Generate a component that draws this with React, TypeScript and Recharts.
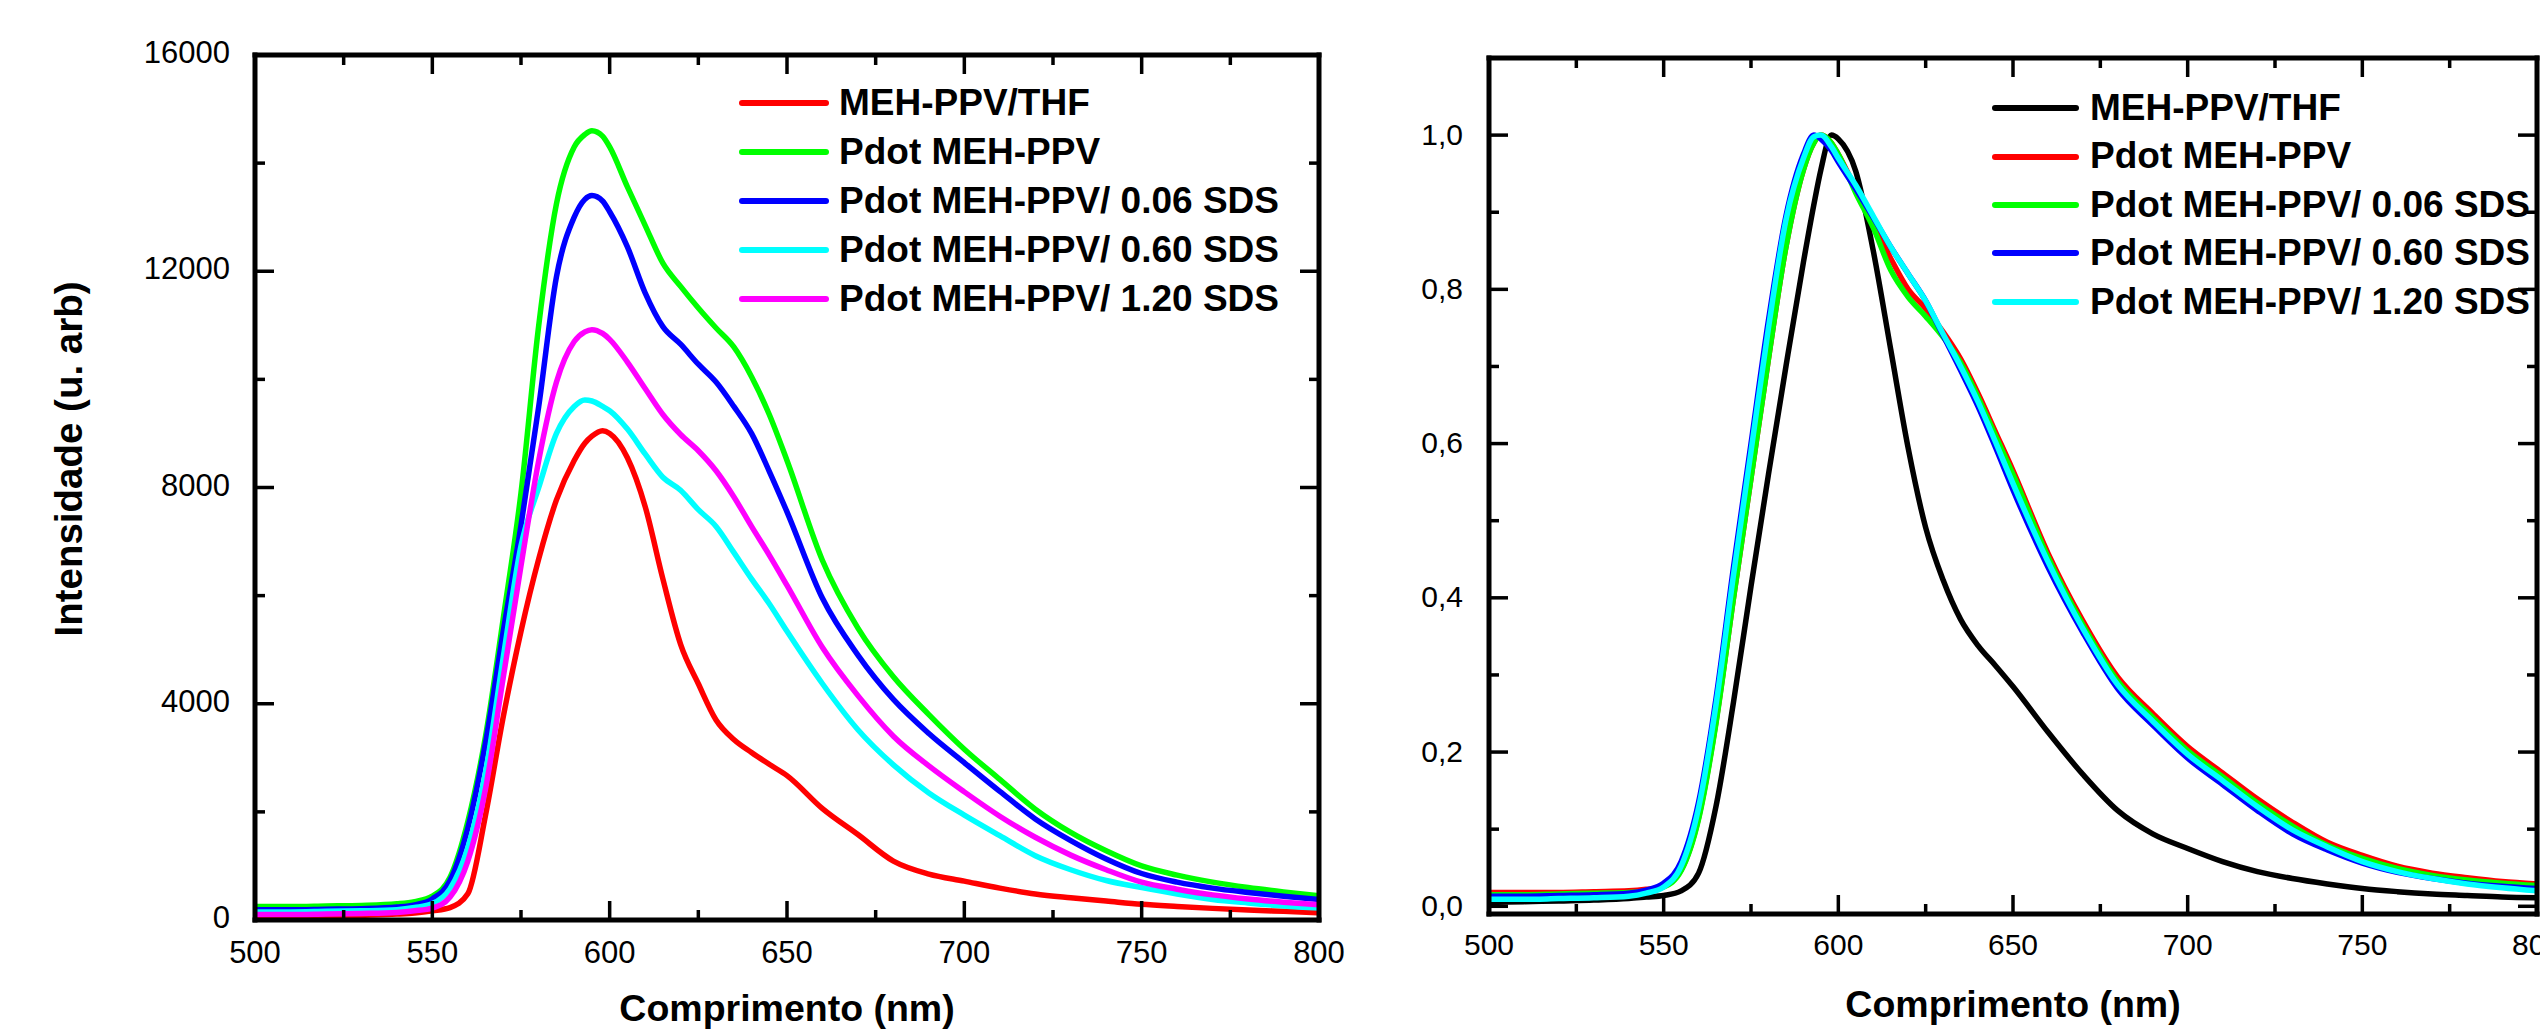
import React from 'react';
import { LineChart, Line, XAxis, YAxis, Legend } from 'recharts';

const FONT = '"Liberation Sans", Arial, Helvetica, sans-serif';

// ---------- data ----------
const wavelengths = [500, 510, 520, 530, 540, 545, 550, 555, 560, 565, 570, 575, 580, 585, 590, 593, 595, 598, 600, 605, 610, 615, 620, 625, 630, 635, 640, 645, 650, 660, 670, 680, 690, 700, 710, 720, 730, 740, 750, 760, 770, 780, 790, 800];

// left panel: raw intensity (u. arb)
const intThf = [60, 65, 75, 90, 110, 130, 170, 230, 485, 1940, 3760, 5340, 6680, 7770, 8500, 8820, 8950, 9050, 9000, 8550, 7650, 6310, 5100, 4370, 3700, 3340, 3100, 2880, 2670, 2060, 1580, 1090, 850, 720, 590, 480, 410, 350, 290, 250, 215, 185, 160, 135];
const intPdot = [250, 250, 260, 270, 300, 340, 440, 790, 1820, 3400, 5580, 7900, 11000, 13250, 14300, 14530, 14600, 14500, 14300, 13560, 12850, 12150, 11720, 11320, 10950, 10600, 10050, 9350, 8500, 6650, 5400, 4500, 3800, 3160, 2600, 2050, 1620, 1280, 1000, 830, 700, 600, 520, 450];
const intSds006 = [190, 190, 200, 210, 240, 280, 390, 730, 1700, 3280, 5340, 7300, 9500, 11900, 13000, 13330, 13400, 13300, 13100, 12450, 11600, 10975, 10650, 10280, 9950, 9500, 9000, 8300, 7550, 5950, 4900, 4080, 3450, 2910, 2380, 1870, 1470, 1130, 860, 700, 590, 510, 440, 380];
const intSds060 = [150, 150, 160, 170, 190, 230, 303, 580, 1335, 2730, 4860, 6920, 8000, 9000, 9500, 9620, 9600, 9500, 9420, 9080, 8620, 8190, 7950, 7590, 7280, 6800, 6310, 5850, 5340, 4370, 3520, 2870, 2350, 1940, 1560, 1190, 930, 730, 600, 480, 380, 315, 260, 220];
const intSds120 = [100, 100, 110, 120, 140, 170, 220, 425, 1090, 2430, 4490, 6550, 8500, 9950, 10700, 10880, 10920, 10850, 10740, 10320, 9830, 9350, 8980, 8680, 8310, 7830, 7280, 6750, 6190, 5040, 4150, 3400, 2850, 2370, 1920, 1530, 1200, 930, 700, 570, 465, 390, 330, 280];

// right panel: normalized intensity
const normThf = [0.005, 0.006, 0.007, 0.008, 0.010, 0.012, 0.014, 0.020, 0.043, 0.13, 0.265, 0.415, 0.56, 0.70, 0.835, 0.91, 0.955, 1.0, 0.995, 0.953, 0.85, 0.722, 0.594, 0.491, 0.423, 0.372, 0.338, 0.312, 0.285, 0.226, 0.171, 0.124, 0.094, 0.075, 0.058, 0.045, 0.036, 0.029, 0.023, 0.019, 0.016, 0.014, 0.012, 0.011];
const normPdot = [0.018, 0.018, 0.018, 0.019, 0.020, 0.022, 0.026, 0.047, 0.115, 0.24, 0.40, 0.555, 0.71, 0.855, 0.955, 0.99, 1.0, 0.99, 0.975, 0.93, 0.885, 0.84, 0.80, 0.775, 0.745, 0.71, 0.665, 0.615, 0.565, 0.458, 0.37, 0.297, 0.25, 0.207, 0.173, 0.139, 0.109, 0.083, 0.066, 0.052, 0.043, 0.037, 0.032, 0.029];
const normSds006 = [0.015, 0.015, 0.016, 0.017, 0.018, 0.020, 0.025, 0.046, 0.113, 0.238, 0.40, 0.555, 0.71, 0.855, 0.955, 0.99, 1.0, 0.99, 0.975, 0.925, 0.88, 0.825, 0.79, 0.765, 0.738, 0.705, 0.66, 0.61, 0.56, 0.453, 0.365, 0.292, 0.245, 0.202, 0.168, 0.134, 0.104, 0.079, 0.062, 0.049, 0.040, 0.034, 0.030, 0.027];
const normSds060 = [0.013, 0.013, 0.014, 0.015, 0.017, 0.021, 0.03, 0.058, 0.135, 0.27, 0.44, 0.60, 0.76, 0.895, 0.975, 1.0, 0.995, 0.98, 0.965, 0.93, 0.893, 0.855, 0.82, 0.785, 0.74, 0.695, 0.648, 0.595, 0.54, 0.44, 0.355, 0.282, 0.235, 0.192, 0.158, 0.124, 0.094, 0.073, 0.056, 0.044, 0.036, 0.030, 0.026, 0.023];
const normSds120 = [0.009, 0.009, 0.010, 0.011, 0.013, 0.017, 0.025, 0.052, 0.128, 0.262, 0.43, 0.59, 0.75, 0.89, 0.97, 0.998, 1.0, 0.985, 0.97, 0.935, 0.895, 0.855, 0.82, 0.785, 0.742, 0.70, 0.654, 0.602, 0.548, 0.447, 0.36, 0.287, 0.24, 0.197, 0.163, 0.129, 0.099, 0.077, 0.058, 0.045, 0.036, 0.029, 0.024, 0.020];

const seriesNames = ['MEH-PPV/THF', 'Pdot MEH-PPV', 'Pdot MEH-PPV/ 0.06 SDS', 'Pdot MEH-PPV/ 0.60 SDS', 'Pdot MEH-PPV/ 1.20 SDS'];

// ticks
const xMajorTicks = [500, 550, 600, 650, 700, 750, 800];
const xMajorLabels = ['500', '550', '600', '650', '700', '750', '800'];
const xMinorTicks = [525, 575, 625, 675, 725, 775];
const leftYMajorTicks = [0, 4000, 8000, 12000, 16000];
const leftYMajorLabels = ['0', '4000', '8000', '12000', '16000'];
const leftYMinorTicks = [2000, 6000, 10000, 14000];
const rightYMajorTicks = [0, 0.2, 0.4, 0.6, 0.8, 1.0];
const rightYMajorLabels = ['0,0', '0,2', '0,4', '0,6', '0,8', '1,0'];
const rightYMinorTicks = [0.1, 0.3, 0.5, 0.7, 0.9];

const xLabel = 'Comprimento (nm)';
const yLabel = 'Intensidade (u. arb)';

// ---------- tables ----------
const leftData = wavelengths.map((wl, i) => ({
  wl, s0: intThf[i], s1: intPdot[i], s2: intSds006[i], s3: intSds060[i], s4: intSds120[i],
}));
const rightData = wavelengths.map((wl, i) => ({
  wl, s0: normThf[i], s1: normPdot[i], s2: normSds006[i], s3: normSds060[i], s4: normSds120[i],
}));

const xTicks = [...xMajorTicks, ...xMinorTicks].sort((a, b) => a - b);
const leftYTicks = [...leftYMajorTicks, ...leftYMinorTicks].sort((a, b) => a - b);
const rightYTicks = [...rightYMajorTicks, ...rightYMinorTicks].sort((a, b) => a - b);

const leftColors = ['#FF0000', '#00FF00', '#0000FF', '#00FFFF', '#FF00FF'];
const rightColors = ['#000000', '#FF0000', '#00FF00', '#0000FF', '#00FFFF'];

// ---------- styling helpers ----------
const MAJOR_LEN = 19;
const MINOR_LEN = 10;
const TICK_W = 3.5;
const AXIS = { stroke: '#000', strokeWidth: 5, strokeLinecap: 'square' as const };

const findIdx = (arr: number[], v: number) => arr.findIndex((m) => Math.abs(m - v) < 1e-6);

function makeXTick(dir: number, majors: number[], labels: string[] | null, labelDy: number, fontSize: number) {
  return (props: any) => {
    const { x, y, payload } = props;
    const idx = findIdx(majors, payload.value);
    const len = idx >= 0 ? MAJOR_LEN : MINOR_LEN;
    return (
      <g>
        <line x1={x} y1={y} x2={x} y2={y + dir * len} stroke="#000" strokeWidth={TICK_W} />
        {labels && idx >= 0 ? (
          <text x={x} y={y + labelDy} textAnchor="middle" fontSize={fontSize} fontFamily={FONT} fill="#000">
            {labels[idx]}
          </text>
        ) : null}
      </g>
    );
  };
}

function makeYTick(dir: number, majors: number[], labels: string[] | null, labelDx: number, labelDy: number, fontSize: number) {
  return (props: any) => {
    const { x, y, payload } = props;
    const idx = findIdx(majors, payload.value);
    const len = idx >= 0 ? MAJOR_LEN : MINOR_LEN;
    return (
      <g>
        <line x1={x} y1={y} x2={x + dir * len} y2={y} stroke="#000" strokeWidth={TICK_W} />
        {labels && idx >= 0 ? (
          <text x={x + labelDx} y={y + labelDy} textAnchor="end" fontSize={fontSize} fontFamily={FONT} fill="#000">
            {labels[idx]}
          </text>
        ) : null}
      </g>
    );
  };
}

function makeLegend(lineW: number, gap: number, rowH: number) {
  return (props: any) => {
    const payload = props.payload || [];
    return (
      <div style={{ display: 'flex', flexDirection: 'column' }}>
        {payload.map((item: any, i: number) => (
          <div key={i} style={{ display: 'flex', alignItems: 'center', height: rowH, whiteSpace: 'nowrap' }}>
            <div style={{ width: lineW, height: 6, background: item.color, borderRadius: 3, marginRight: gap, flex: 'none' }} />
            <span style={{ fontFamily: FONT, fontWeight: 'bold', fontSize: 37, color: '#000', lineHeight: `${rowH}px` }}>
              {item.value}
            </span>
          </div>
        ))}
      </div>
    );
  };
}

const leftBottomTick = makeXTick(-1, xMajorTicks, xMajorLabels, 43, 31);
const topTick = makeXTick(1, xMajorTicks, null, 0, 31);
const leftYTick = makeYTick(1, leftYMajorTicks, leftYMajorLabels, -25, 8, 31);
const leftRightTick = makeYTick(-1, leftYMajorTicks, null, 0, 0, 31);
const rightBottomTick = makeXTick(-1, xMajorTicks, xMajorLabels, 41, 30);
const rightYTick = makeYTick(1, rightYMajorTicks, rightYMajorLabels, -26, 9.5, 30);
const rightRightTick = makeYTick(-1, rightYMajorTicks, null, 0, 0, 30);

const yLabelContent = (p: any) => {
  const vb = p.viewBox || { x: 0, y: 0 };
  const cx = vb.x + 82;
  const cy = vb.y + 404;
  return (
    <text x={cx} y={cy} transform={`rotate(-90 ${cx} ${cy})`} textAnchor="middle" fontSize={38.5} fontWeight="bold" fontFamily={FONT} fill="#000">
      {yLabel}
    </text>
  );
};

export default function App() {
  return (
    <div style={{ position: 'absolute', left: 0, top: 0, width: 2540, height: 1029, overflow: 'hidden', background: '#fff' }}>
      <div style={{ position: 'absolute', left: 0, top: 0 }}>
        <LineChart width={1400} height={1029} data={leftData} margin={{ top: 54, right: 80, bottom: 0, left: 0 }}>
          <XAxis dataKey="wl" type="number" domain={[500, 800]} allowDataOverflow ticks={xTicks} interval={0}
            height={109} tickSize={0} tickMargin={0} axisLine={AXIS} tickLine={false} tick={leftBottomTick}
            label={{ value: xLabel, position: 'insideBottom', offset: 8, fontSize: 37.5, fontWeight: 'bold', fill: '#000', fontFamily: FONT }} />
          <XAxis xAxisId="top" orientation="top" dataKey="wl" type="number" domain={[500, 800]} allowDataOverflow ticks={xTicks} interval={0}
            height={1} tickSize={0} tickMargin={0} axisLine={AXIS} tickLine={false} tick={topTick} />
          <YAxis type="number" domain={[0, 16000]} allowDataOverflow ticks={leftYTicks} interval={0}
            width={255} tickSize={0} tickMargin={0} axisLine={AXIS} tickLine={false} tick={leftYTick}
            label={{ content: yLabelContent }} />
          <YAxis yAxisId="right" orientation="right" type="number" domain={[0, 16000]} allowDataOverflow ticks={leftYTicks} interval={0}
            width={1} tickSize={0} tickMargin={0} axisLine={AXIS} tickLine={false} tick={leftRightTick} />
          <Legend layout="vertical" align="center" verticalAlign="middle"
            wrapperStyle={{ left: 739, top: 79, width: 'auto', height: 'auto' }}
            content={makeLegend(90, 10, 48.9)} />
          {['s0', 's1', 's2', 's3', 's4'].map((k, i) => (
            <Line key={k} type="monotone" dataKey={k} name={seriesNames[i]} stroke={leftColors[i]} strokeWidth={5.5}
              dot={false} activeDot={false} isAnimationActive={false} strokeLinejoin="round" />
          ))}
        </LineChart>
      </div>
      <div style={{ position: 'absolute', left: 1380, top: 0 }}>
        <LineChart width={1200} height={1029} data={rightData} margin={{ top: 57, right: 42, bottom: 0, left: 0 }}>
          <XAxis dataKey="wl" type="number" domain={[500, 800]} allowDataOverflow ticks={xTicks} interval={0}
            height={115} tickSize={0} tickMargin={0} axisLine={AXIS} tickLine={false} tick={rightBottomTick}
            label={{ value: xLabel, position: 'insideBottom', offset: 12, fontSize: 37.5, fontWeight: 'bold', fill: '#000', fontFamily: FONT }} />
          <XAxis xAxisId="top" orientation="top" dataKey="wl" type="number" domain={[500, 800]} allowDataOverflow ticks={xTicks} interval={0}
            height={1} tickSize={0} tickMargin={0} axisLine={AXIS} tickLine={false} tick={topTick} />
          <YAxis type="number" domain={[-0.01, 1.1]} allowDataOverflow ticks={rightYTicks} interval={0}
            width={109} tickSize={0} tickMargin={0} axisLine={AXIS} tickLine={false} tick={rightYTick} />
          <YAxis yAxisId="right" orientation="right" type="number" domain={[-0.01, 1.1]} allowDataOverflow ticks={rightYTicks} interval={0}
            width={1} tickSize={0} tickMargin={0} axisLine={AXIS} tickLine={false} tick={rightRightTick} />
          <Legend layout="vertical" align="center" verticalAlign="middle"
            wrapperStyle={{ left: 612, top: 84, width: 'auto', height: 'auto' }}
            content={makeLegend(87, 11, 48.4)} />
          {['s0', 's1', 's2', 's3', 's4'].map((k, i) => (
            <Line key={k} type="monotone" dataKey={k} name={seriesNames[i]} stroke={rightColors[i]} strokeWidth={5.5}
              dot={false} activeDot={false} isAnimationActive={false} strokeLinejoin="round" />
          ))}
        </LineChart>
      </div>
    </div>
  );
}
